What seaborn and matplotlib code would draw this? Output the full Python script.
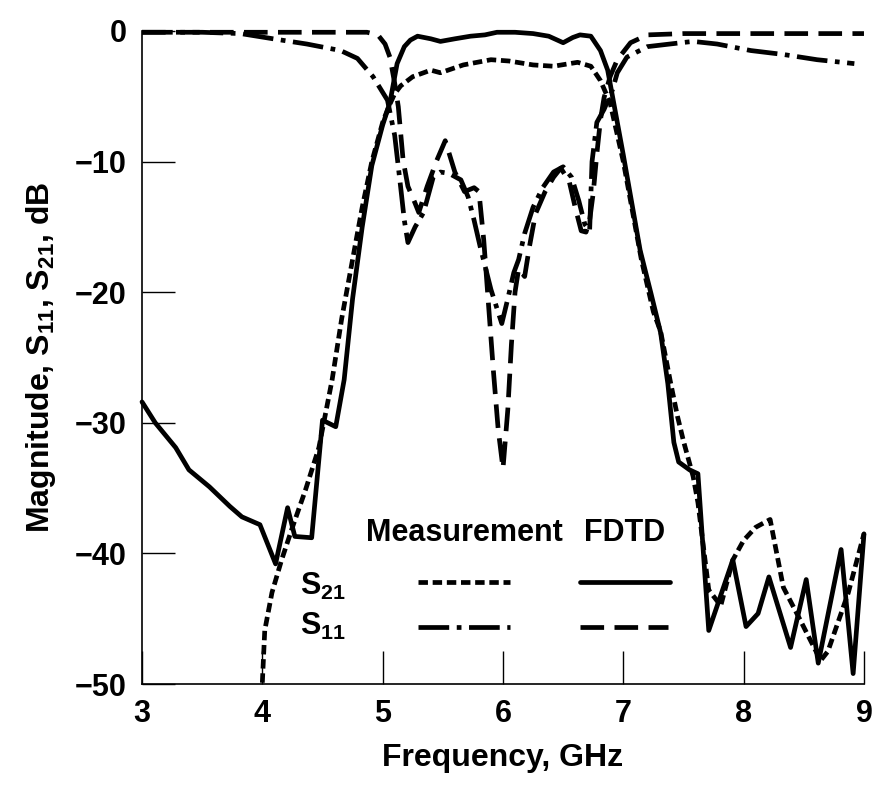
import matplotlib
matplotlib.use("Agg")
import matplotlib.pyplot as plt
import seaborn as sns
from matplotlib.lines import Line2D

# S21, FDTD (solid)
f_s21_fdtd = [3.00, 3.11, 3.28, 3.39, 3.56, 3.73, 3.83, 3.98, 4.11, 4.21, 4.27, 4.41, 4.50, 4.61,
              4.68, 4.75, 4.83, 4.91, 5.00, 5.06, 5.12, 5.18, 5.23, 5.29, 5.40, 5.48, 5.60, 5.73,
              5.85, 5.95, 6.10, 6.25, 6.38, 6.50, 6.58, 6.64, 6.73, 6.81, 6.87, 6.92, 7.00, 7.14,
              7.23, 7.31, 7.37, 7.42, 7.46, 7.55, 7.62, 7.71, 7.91, 8.02, 8.12, 8.21, 8.39, 8.52,
              8.62, 8.81, 8.91, 9.00]
s21_fdtd = [-28.4, -30.0, -31.9, -33.6, -34.9, -36.4, -37.2, -37.8, -40.8, -36.5, -38.7, -38.8, -29.8, -30.3,
            -26.7, -20.5, -15.0, -10.3, -7.2, -5.5, -2.5, -1.2, -0.7, -0.4, -0.6, -0.8, -0.6, -0.4,
            -0.3, -0.1, -0.1, -0.2, -0.4, -0.9, -0.5, -0.3, -0.4, -1.5, -3.0, -5.5, -9.5, -16.8,
            -20.1, -23.1, -27.0, -31.5, -33.0, -33.6, -33.9, -45.9, -40.5, -45.6, -44.6, -41.8, -47.2, -42.0,
            -48.4, -39.7, -49.2, -38.5]

# S21, measurement (short dashes)
f_s21_meas = [4.00, 4.02, 4.08, 4.16, 4.25, 4.36, 4.47, 4.58, 4.66, 4.75, 4.83, 4.91, 5.00, 5.05,
              5.10, 5.15, 5.25, 5.40, 5.48, 5.67, 5.90, 6.05, 6.25, 6.42, 6.62, 6.73, 6.81, 6.89,
              7.00, 7.15, 7.25, 7.31, 7.39, 7.45, 7.50, 7.58, 7.62, 7.71, 7.81, 7.91, 8.00, 8.10,
              8.22, 8.33, 8.47, 8.64, 8.70, 8.87, 9.00]
s21_meas = [-49.9, -45.9, -43.0, -40.5, -38.0, -35.1, -31.9, -26.7, -22.0, -17.5, -13.5, -10.0, -7.0, -5.8,
            -4.8, -4.2, -3.5, -3.0, -3.2, -2.6, -2.2, -2.3, -2.6, -2.7, -2.4, -2.7, -3.8, -5.5,
            -10.0, -17.5, -21.5, -23.0, -26.8, -29.5, -31.4, -34.1, -36.1, -42.8, -44.0, -40.5, -39.0, -38.0,
            -37.4, -42.6, -45.1, -48.2, -47.5, -43.0, -38.5]

# S11, FDTD (long dashes)
f_s11_fdtd = [3.00, 3.50, 4.00, 4.50, 4.87, 4.96, 5.02, 5.06, 5.10, 5.13, 5.17, 5.21, 5.27, 5.30,
              5.37, 5.45, 5.52, 5.60, 5.68, 5.76, 5.80, 5.84, 5.88, 5.92, 5.96, 6.00, 6.04, 6.07,
              6.10, 6.13, 6.18, 6.22, 6.27, 6.35, 6.42, 6.48, 6.55, 6.60, 6.65, 6.69, 6.72, 6.75,
              6.78, 6.81, 6.84, 6.89, 6.95, 7.06, 7.20, 7.50, 8.00, 8.50, 9.00]
s11_fdtd = [-0.1, -0.1, -0.1, -0.1, -0.1, -0.3, -1.0, -2.0, -4.0, -5.8, -9.9, -11.9, -13.2, -13.9,
            -11.9, -9.9, -8.4, -10.8, -12.3, -12.0, -12.3, -16.0, -21.0, -26.0, -30.5, -33.5, -29.0, -24.0,
            -20.0, -18.2, -18.8, -16.5, -14.0, -12.3, -11.2, -10.5, -11.5, -13.5, -15.3, -15.4, -14.5, -12.4,
            -9.4, -6.8, -5.1, -3.5, -2.2, -0.9, -0.3, -0.2, -0.2, -0.2, -0.2]

# S11, measurement (dash-dot)
f_s11_meas = [3.00, 3.50, 3.82, 4.09, 4.37, 4.65, 4.79, 4.92, 5.04, 5.10, 5.15, 5.18, 5.21, 5.27,
              5.34, 5.42, 5.48, 5.55, 5.65, 5.71, 5.76, 5.81, 5.90, 5.99, 6.04, 6.09, 6.13, 6.18,
              6.25, 6.33, 6.42, 6.50, 6.57, 6.63, 6.68, 6.72, 6.74, 6.78, 6.84, 6.91, 6.95, 7.03,
              7.20, 7.48, 7.58, 7.78, 8.06, 8.33, 8.61, 8.92]
s11_meas = [-0.1, -0.1, -0.2, -0.6, -1.0, -1.5, -2.1, -3.5, -5.3, -8.0, -12.0, -14.5, -16.2, -15.0,
            -13.9, -11.2, -10.8, -10.9, -11.4, -12.7, -14.5, -16.5, -19.8, -22.4, -20.5, -18.5, -17.5, -15.5,
            -13.5, -12.0, -10.8, -10.4, -11.2, -13.0, -14.8, -15.3, -10.0, -7.0, -6.0, -4.5, -3.2, -2.0,
            -1.2, -0.9, -0.8, -1.0, -1.5, -1.8, -2.2, -2.5]

x_ticks = [3, 4, 5, 6, 7, 8, 9]
y_ticks = [-50, -40, -30, -20, -10, 0]

sns.set_theme(style="white")
plt.rcParams["font.family"] = ["Liberation Sans", "DejaVu Sans"]
plt.rcParams["font.weight"] = "bold"
plt.rcParams["mathtext.fontset"] = "custom"
plt.rcParams["mathtext.rm"] = "Liberation Sans:bold"
plt.rcParams["mathtext.it"] = "Liberation Sans:bold"
plt.rcParams["mathtext.bf"] = "Liberation Sans:bold"

lw = 3.4
st_s21_meas = (0, (2.0, 1.0))
st_s11_meas = (0, (6.5, 1.6, 1.0, 1.6))
st_s11_fdtd = (0, (5.0, 2.2))

fig = plt.figure(figsize=(8.75, 7.94), dpi=100)
ax = fig.add_axes([0.1623, 0.1385, 0.8251, 0.8225])

sns.lineplot(x=f_s21_fdtd, y=s21_fdtd, ax=ax, color="black", lw=lw, estimator=None, sort=False,
             solid_joinstyle="round", clip_on=False)
sns.lineplot(x=f_s21_meas, y=s21_meas, ax=ax, color="black", lw=lw, estimator=None, sort=False,
             linestyle=st_s21_meas, clip_on=False)
sns.lineplot(x=f_s11_fdtd, y=s11_fdtd, ax=ax, color="black", lw=lw, estimator=None, sort=False,
             linestyle=st_s11_fdtd, clip_on=False)
sns.lineplot(x=f_s11_meas, y=s11_meas, ax=ax, color="black", lw=lw, estimator=None, sort=False,
             linestyle=st_s11_meas, clip_on=False)

ax.set_xlim(3, 9)
ax.set_ylim(-50, 0)
ax.set_xticks(x_ticks)
ax.set_yticks(y_ticks)
ax.tick_params(bottom=True, left=True, direction="in", length=24, width=1.0, color="black",
               labelsize=22, pad=11, labelcolor="black")
for side in ["top", "right"]:
    ax.spines[side].set_visible(False)
for side in ["left", "bottom"]:
    ax.spines[side].set_color("black")
    ax.spines[side].set_linewidth(1.2)

ax.set_xlabel("Frequency, GHz", fontsize=23, fontweight="bold", color="black", labelpad=10)
ax.set_ylabel("Magnitude, S$_{11}$, S$_{21}$, dB", fontsize=23, fontweight="bold", color="black",
              labelpad=12)

# legend table drawn inside the axes
ax.text(0.447, 0.231, "Measurement", transform=ax.transAxes, ha="center", va="center",
        fontsize=22, fontweight="bold", color="black")
ax.text(0.669, 0.231, "FDTD", transform=ax.transAxes, ha="center", va="center",
        fontsize=22, fontweight="bold", color="black")
ax.text(0.219, 0.150, "S$_{21}$", transform=ax.transAxes, ha="left", va="center",
        fontsize=22, color="black")
ax.text(0.219, 0.088, "S$_{11}$", transform=ax.transAxes, ha="left", va="center",
        fontsize=22, color="black")
legend_rows = [
    (0.382, 0.510, 0.156, st_s21_meas),
    (0.607, 0.731, 0.156, "-"),
    (0.382, 0.510, 0.087, st_s11_meas),
    (0.607, 0.728, 0.087, st_s11_fdtd),
]
for x0, x1, yy, st in legend_rows:
    ax.add_line(Line2D([x0, x1], [yy, yy], transform=ax.transAxes, color="black", lw=lw,
                       linestyle=st))

fig.savefig("out.png", dpi=100)
